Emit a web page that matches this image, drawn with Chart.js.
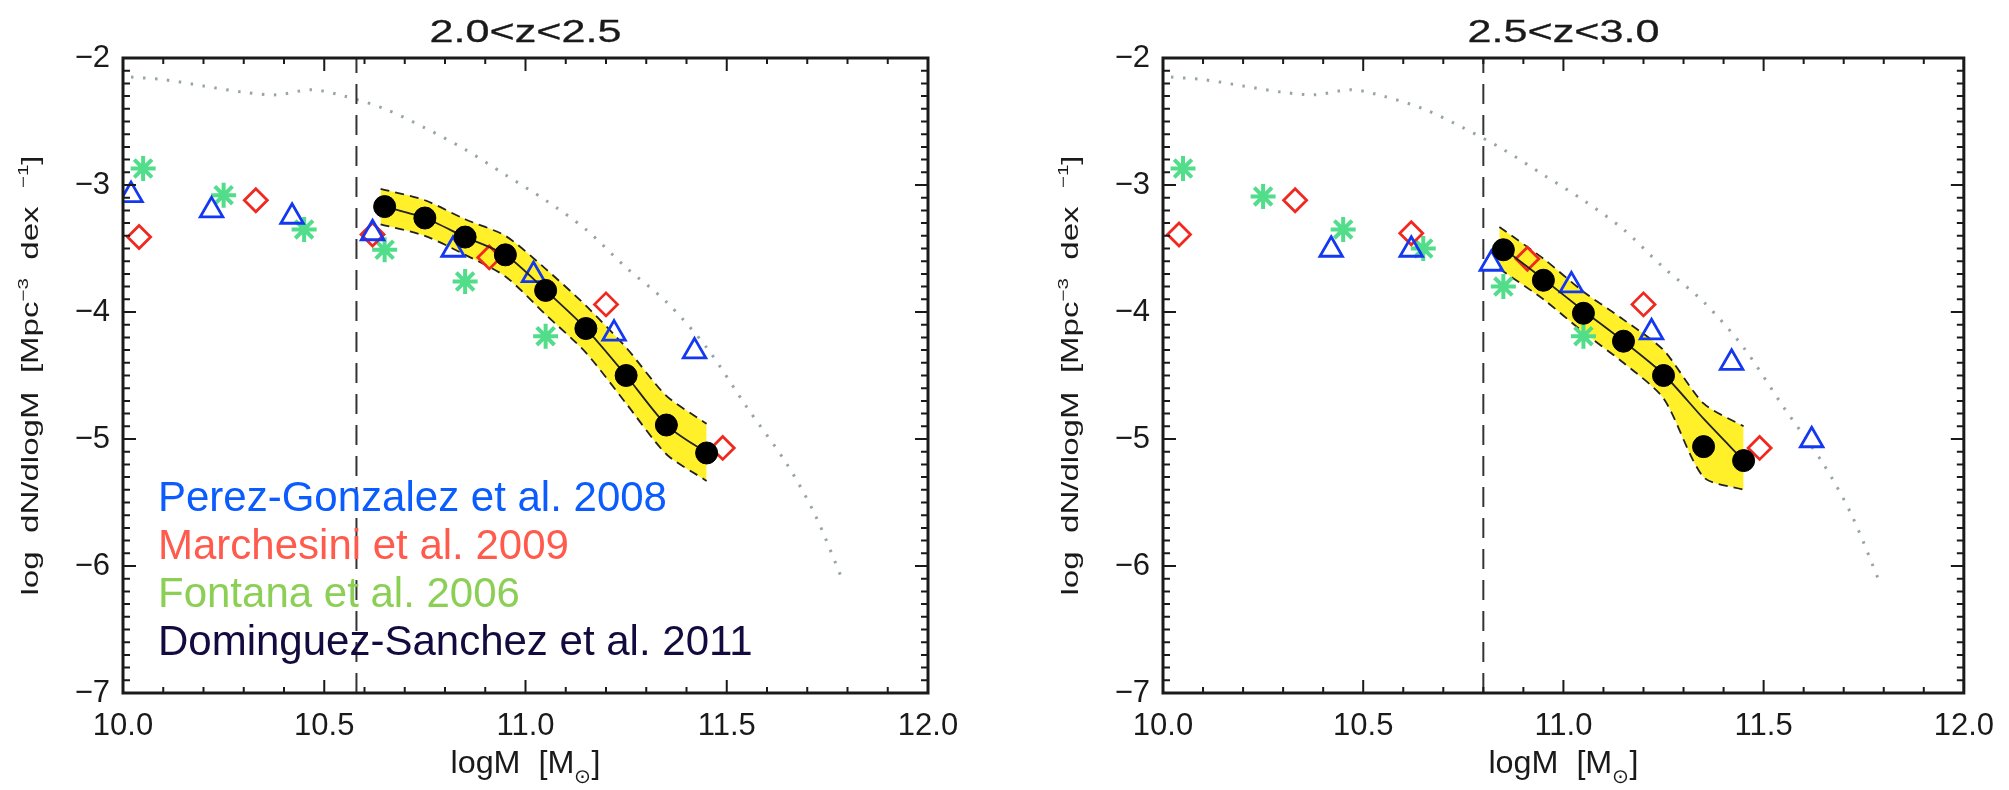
<!DOCTYPE html>
<html>
<head>
<meta charset="utf-8">
<title>Stellar mass functions 2.0&lt;z&lt;3.0</title>
<script src="https://cdn.jsdelivr.net/npm/chart.js@4.4.1/dist/chart.umd.min.js"></script>
<style>
  html, body { margin: 0; padding: 0; background: #fff; }
  #wrap { position: relative; width: 2009px; height: 790px; overflow: hidden; }
  canvas { position: absolute; top: 0; }
</style>
</head>
<body>
<div id="wrap">
  <canvas id="panelLow" width="1000" height="790" style="left:0"></canvas>
  <canvas id="panelHigh" width="1009" height="790" style="left:1000px"></canvas>
</div>
<script>
// ====== MASS FUNCTION, DUA PANEL ======

// sumbu
const xRange = [10, 12];
const yRange = [-7, -2];
const xTickValues = [10.0, 10.5, 11.0, 11.5, 12.0];
const yTickValues = [-2, -3, -4, -5, -6, -7];

// legend (teks di panel kiri)
const legendLabels = ["Perez-Gonzalez et al. 2008", "Marchesini et al. 2009", "Fontana et al. 2006", "Dominguez-Sanchez et al. 2011"];
const legendColors = ["#0a5cff", "#ff5a4c", "#8ccf55", "#130b3f"];

// kurva model (titik-titik abu)
const modelMass = [10.02, 10.10, 10.20, 10.30, 10.38, 10.47, 10.55, 10.65, 10.75, 10.85, 10.95, 11.05, 11.15, 11.25, 11.35, 11.45, 11.55, 11.65, 11.72, 11.79];
const modelPhi = [-2.15, -2.17, -2.22, -2.27, -2.29, -2.25, -2.30, -2.40, -2.55, -2.72, -2.92, -3.12, -3.35, -3.65, -3.92, -4.28, -4.75, -5.20, -5.60, -6.13];

// === panel 2.0<z<2.5 ===
const massLimitLow = 10.58;
const pgMassLow = [10.02, 10.22, 10.42, 10.62, 10.82, 11.02, 11.22, 11.42];
const pgPhiLow = [-3.08, -3.20, -3.25, -3.38, -3.51, -3.71, -4.17, -4.31];
const maMassLow = [10.04, 10.33, 10.62, 10.91, 11.20, 11.49];
const maPhiLow = [-3.41, -3.12, -3.39, -3.57, -3.94, -5.07];
const foMassLow = [10.05, 10.25, 10.45, 10.65, 10.85, 11.05];
const foPhiLow = [-2.87, -3.08, -3.35, -3.51, -3.76, -4.19];
const dsMassLow = [10.65, 10.75, 10.85, 10.95, 11.05, 11.15, 11.25, 11.35, 11.45];
const dsPhiLow = [-3.17, -3.26, -3.41, -3.55, -3.83, -4.13, -4.50, -4.89, -5.11];
const fitPhiLow = [-3.17, -3.26, -3.41, -3.55, -3.83, -4.13, -4.50, -4.89, -5.11];
const bandMassLow = [10.64, 10.75, 10.85, 10.95, 11.05, 11.15, 11.25, 11.35, 11.45];
const bandHiLow = [-3.03, -3.12, -3.27, -3.40, -3.66, -3.95, -4.28, -4.66, -4.88];
const bandLoLow = [-3.31, -3.40, -3.55, -3.72, -4.02, -4.32, -4.72, -5.12, -5.33];

// === panel 2.5<z<3.0 ===
const massLimitHigh = 10.80;
const pgMassHigh = [10.42, 10.62, 10.82, 11.02, 11.22, 11.42, 11.62];
const pgPhiHigh = [-3.51, -3.51, -3.62, -3.79, -4.16, -4.40, -5.01];
const maMassHigh = [10.04, 10.33, 10.62, 10.91, 11.20, 11.49];
const maPhiHigh = [-3.39, -3.12, -3.38, -3.58, -3.94, -5.07];
const foMassHigh = [10.05, 10.25, 10.45, 10.65, 10.85, 11.05];
const foPhiHigh = [-2.87, -3.09, -3.35, -3.50, -3.80, -4.19];
const dsMassHigh = [10.85, 10.95, 11.05, 11.15, 11.25, 11.35, 11.45];
const dsPhiHigh = [-3.51, -3.75, -4.01, -4.23, -4.50, -5.06, -5.17];
const fitPhiHigh = [-3.50, -3.74, -3.99, -4.23, -4.49, -4.84, -5.17];
const bandMassHigh = [10.84, 10.95, 11.05, 11.15, 11.25, 11.35, 11.45];
const bandHiHigh = [-3.33, -3.58, -3.84, -4.06, -4.30, -4.72, -4.90];
const bandLoHigh = [-3.66, -3.90, -4.16, -4.40, -4.68, -5.30, -5.40];

const FONT = "'Liberation Sans', Arial, sans-serif";
const INK = "#1a1a1a";

// gabung dua array jadi titik {x, y}
function pts(xs, ys) {
  return xs.map((x, i) => ({ x: x, y: ys[i] }));
}

// teks dengan superscript/subscript, dilebarkan ke lebar target
function drawRichText(ctx, parts, cx, cy, size, width, angle, heavy) {
  ctx.save();
  ctx.translate(cx, cy);
  ctx.rotate(angle || 0);
  let natural = 0;
  parts.forEach((p) => {
    ctx.font = (p.script ? size * 0.62 : size) + "px " + FONT;
    p.w = ctx.measureText(p.text).width;
    natural += p.w;
  });
  ctx.scale(width / natural, 1);
  ctx.textBaseline = "alphabetic";
  ctx.textAlign = "left";
  ctx.strokeStyle = ctx.fillStyle;
  ctx.lineWidth = heavy || 0;
  let pos = -natural / 2;
  parts.forEach((p) => {
    ctx.font = (p.script ? size * 0.62 : size) + "px " + FONT;
    let dy = 0;
    if (p.script === "sup") dy = -size * 0.42;
    if (p.script === "sub") dy = size * 0.32;
    ctx.fillText(p.text, pos, dy);
    if (heavy) ctx.strokeText(p.text, pos, dy);
    pos += p.w;
  });
  ctx.restore();
}

// plugin: bingkai + tick gaya IDL, judul, label sumbu, legend teks
const idlAxes = {
  id: "idlAxes",
  afterDatasetsDraw(chart) {
    const { ctx, chartArea: a } = chart;
    const sx = chart.scales.x;
    const sy = chart.scales.y;
    ctx.save();
    ctx.strokeStyle = INK;
    ctx.lineWidth = 2;
    ctx.beginPath();
    const nx = Math.round((xRange[1] - xRange[0]) / 0.1);
    for (let i = 0; i <= nx; i++) {
      const v = xRange[0] + i * 0.1;
      const len = xTickValues.some((t) => Math.abs(t - v) < 1e-6) ? 13 : 6;
      const px = sx.getPixelForValue(v);
      ctx.moveTo(px, a.bottom);
      ctx.lineTo(px, a.bottom - len);
      ctx.moveTo(px, a.top);
      ctx.lineTo(px, a.top + len);
    }
    const ny = Math.round((yRange[1] - yRange[0]) / 0.1);
    for (let i = 0; i <= ny; i++) {
      const v = yRange[0] + i * 0.1;
      const len = yTickValues.some((t) => Math.abs(t - v) < 1e-6) ? 13 : 7;
      const py = sy.getPixelForValue(v);
      ctx.moveTo(a.left, py);
      ctx.lineTo(a.left + len, py);
      ctx.moveTo(a.right, py);
      ctx.lineTo(a.right - len, py);
    }
    ctx.stroke();
    ctx.lineWidth = 3;
    ctx.strokeRect(a.left, a.top, a.right - a.left, a.bottom - a.top);
    ctx.restore();
  },
  afterDraw(chart, args, opts) {
    const { ctx, chartArea: a } = chart;
    const midX = (a.left + a.right) / 2;
    const midY = (a.top + a.bottom) / 2;
    ctx.save();
    ctx.fillStyle = INK;

    // judul panel
    drawRichText(ctx, [{ text: opts.title }], midX, 42, 31, 192, 0, 0.3);

    // label sumbu x: logM [M_sun]
    drawRichText(ctx, [
      { text: "logM  [M" },
      { text: "\u2299", script: "sub" },
      { text: "]" }
    ], midX, a.bottom + 80, 32, 150, 0, 0);

    // label sumbu y
    drawRichText(ctx, [
      { text: "log  dN/dlogM  [Mpc" },
      { text: "\u22123", script: "sup" },
      { text: "  dex  " },
      { text: "\u22121", script: "sup" },
      { text: "]" }
    ], a.left - 85, midY, 24, 440, -Math.PI / 2, 0);

    // legend berupa teks berwarna
    if (opts.legend) {
      ctx.font = "42px " + FONT;
      ctx.textBaseline = "alphabetic";
      ctx.textAlign = "left";
      legendLabels.forEach((label, i) => {
        ctx.fillStyle = legendColors[i];
        ctx.fillText(label, a.left + 35, a.top + 453 + i * 48);
      });
    }
    ctx.restore();
  }
};

function buildDatasets(p) {
  return [
    {
      label: "Dominguez-Sanchez et al. 2011",
      data: pts(p.dsMass, p.dsPhi),
      showLine: false,
      pointStyle: "circle",
      pointRadius: 11,
      pointBackgroundColor: "#000",
      pointBorderColor: "#000",
      pointBorderWidth: 1,
      order: 0
    },
    {
      label: "fit",
      data: pts(p.dsMass, p.fitPhi),
      borderColor: "#222",
      borderWidth: 1.8,
      pointRadius: 0,
      tension: 0.25,
      order: 1
    },
    {
      label: "Perez-Gonzalez et al. 2008",
      data: pts(p.pgMass, p.pgPhi),
      showLine: false,
      pointStyle: "triangle",
      pointRadius: 13,
      pointBackgroundColor: "rgba(0,0,0,0)",
      pointBorderColor: "#1438f0",
      pointBorderWidth: 2.8,
      order: 2
    },
    {
      label: "Marchesini et al. 2009",
      data: pts(p.maMass, p.maPhi),
      showLine: false,
      pointStyle: "rectRot",
      pointRadius: 11.5,
      pointBackgroundColor: "rgba(0,0,0,0)",
      pointBorderColor: "#f0281e",
      pointBorderWidth: 2.8,
      order: 3
    },
    {
      label: "Fontana et al. 2006",
      data: pts(p.foMass, p.foPhi),
      showLine: false,
      pointStyle: "star",
      pointRadius: 12.5,
      pointBackgroundColor: "rgba(0,0,0,0)",
      pointBorderColor: "#52dd8a",
      pointBorderWidth: 4,
      order: 4
    },
    {
      label: "mass limit",
      data: pts([p.massLimit, p.massLimit], yRange),
      borderColor: "#333",
      borderWidth: 2,
      borderDash: [20, 11],
      pointRadius: 0,
      order: 5
    },
    {
      label: "model",
      data: pts(modelMass, modelPhi),
      borderColor: "#97a5a5",
      borderWidth: 3,
      borderDash: [2.5, 9.5],
      pointRadius: 0,
      tension: 0.3,
      order: 6
    },
    {
      label: "band upper",
      data: pts(p.bandMass, p.bandHi),
      borderColor: "#222",
      borderWidth: 1.8,
      borderDash: [9, 6],
      backgroundColor: "#fff02a",
      fill: "+1",
      pointRadius: 0,
      tension: 0.25,
      order: 7
    },
    {
      label: "band lower",
      data: pts(p.bandMass, p.bandLo),
      borderColor: "#222",
      borderWidth: 1.8,
      borderDash: [9, 6],
      pointRadius: 0,
      tension: 0.25,
      order: 8
    }
  ];
}

function makePanel(canvasId, p) {
  const tickFont = { family: FONT, size: 31 };
  return new Chart(document.getElementById(canvasId), {
    type: "line",
    data: { datasets: buildDatasets(p) },
    options: {
      animation: false,
      responsive: false,
      devicePixelRatio: 1,
      events: [],
      layout: { padding: { top: 58, right: p.rightPad, left: 0, bottom: 0 } },
      plugins: {
        legend: { display: false },
        tooltip: { enabled: false },
        filler: { drawTime: "beforeDatasetsDraw" },
        idlAxes: { title: p.title, legend: p.showLegend }
      },
      scales: {
        x: {
          type: "linear",
          min: xRange[0],
          max: xRange[1],
          afterBuildTicks: (s) => { s.ticks = xTickValues.map((v) => ({ value: v })); },
          afterFit: (s) => { s.height = 97; },
          grid: { display: false, drawTicks: false },
          border: { display: false },
          ticks: {
            padding: 15,
            font: tickFont,
            color: INK,
            maxRotation: 0,
            autoSkip: false,
            callback: (v) => Number(v).toFixed(1)
          }
        },
        y: {
          type: "linear",
          min: yRange[0],
          max: yRange[1],
          afterBuildTicks: (s) => { s.ticks = yTickValues.map((v) => ({ value: v })); },
          afterFit: (s) => { s.width = p.leftWidth; },
          grid: { display: false, drawTicks: false },
          border: { display: false },
          ticks: {
            padding: 13,
            font: tickFont,
            color: INK,
            autoSkip: false,
            callback: (v) => "\u2212" + Math.abs(v)
          }
        }
      }
    },
    plugins: [idlAxes]
  });
}

makePanel("panelLow", {
  title: "2.0<z<2.5",
  showLegend: true,
  leftWidth: 123,
  rightPad: 72,
  massLimit: massLimitLow,
  pgMass: pgMassLow, pgPhi: pgPhiLow,
  maMass: maMassLow, maPhi: maPhiLow,
  foMass: foMassLow, foPhi: foPhiLow,
  dsMass: dsMassLow, dsPhi: dsPhiLow, fitPhi: fitPhiLow,
  bandMass: bandMassLow, bandHi: bandHiLow, bandLo: bandLoLow
});

makePanel("panelHigh", {
  title: "2.5<z<3.0",
  showLegend: false,
  leftWidth: 163,
  rightPad: 44,
  massLimit: massLimitHigh,
  pgMass: pgMassHigh, pgPhi: pgPhiHigh,
  maMass: maMassHigh, maPhi: maPhiHigh,
  foMass: foMassHigh, foPhi: foPhiHigh,
  dsMass: dsMassHigh, dsPhi: dsPhiHigh, fitPhi: fitPhiHigh,
  bandMass: bandMassHigh, bandHi: bandHiHigh, bandLo: bandLoHigh
});
</script>
</body>
</html>
